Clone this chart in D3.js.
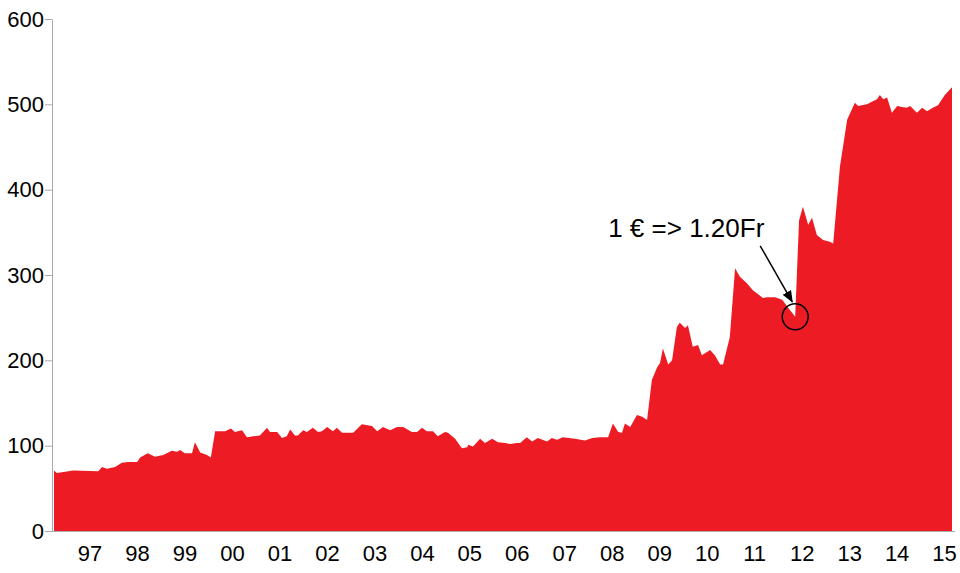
<!DOCTYPE html>
<html><head><meta charset="utf-8">
<script src="https://cdn.jsdelivr.net/npm/d3@7"></script>
<style>body{margin:0;background:#fff}svg{font-family:"Liberation Sans",Arial,sans-serif}</style>
</head><body><svg id="c" width="960" height="573"></svg>
<script>
const times=[1996.33,1996.39,1996.73,1997.25,1997.33,1997.43,1997.60,1997.74,1997.87,1998.06,1998.12,1998.28,1998.43,1998.60,1998.78,1998.89,1998.95,1999.05,1999.20,1999.26,1999.37,1999.51,1999.59,1999.68,1999.89,2000.01,2000.09,2000.24,2000.34,2000.47,2000.61,2000.76,2000.82,2000.97,2001.07,2001.17,2001.24,2001.34,2001.40,2001.51,2001.59,2001.71,2001.82,2001.90,2002.01,2002.13,2002.21,2002.32,2002.55,2002.73,2002.94,2003.05,2003.17,2003.32,2003.46,2003.59,2003.77,2003.88,2003.98,2004.08,2004.21,2004.31,2004.46,2004.52,2004.67,2004.81,2004.92,2004.94,2005.04,2005.19,2005.29,2005.44,2005.56,2005.71,2005.81,2005.96,2006.02,2006.16,2006.27,2006.39,2006.58,2006.68,2006.79,2006.91,2007.16,2007.37,2007.52,2007.68,2007.85,2007.95,2008.06,2008.14,2008.20,2008.31,2008.45,2008.56,2008.66,2008.76,2008.87,2008.93,2008.99,2009.10,2009.18,2009.28,2009.34,2009.45,2009.51,2009.61,2009.72,2009.80,2009.97,2010.07,2010.18,2010.24,2010.38,2010.49,2010.59,2010.74,2010.86,2011.07,2011.15,2011.32,2011.47,2011.63,2011.74,2011.82,2011.90,2012.01,2012.09,2012.19,2012.32,2012.46,2012.53,2012.67,2012.82,2012.98,2013.05,2013.23,2013.44,2013.50,2013.57,2013.65,2013.75,2013.86,2013.96,2014.06,2014.13,2014.27,2014.38,2014.48,2014.60,2014.71,2014.85,2015.00];
const values=[71,68,71,70,75,73,75,80,81,81,86,91,87,89,94,93,95,91,91,104,92,89,86,117,117,120,116,118,110,111,112,121,116,116,109,111,119,112,112,118,116,121,116,117,122,117,121,115,115,125,123,117,122,118,122,122,116,116,121,117,117,111,116,115,108,97,98,101,99,108,103,108,104,103,102,103,103,110,105,109,105,109,107,110,108,106,109,110,110,126,116,115,126,122,136,134,130,177,192,197,214,195,200,239,244,238,241,216,218,206,212,206,195,195,227,308,298,290,282,273,274,274,271,259,251,364,380,359,367,347,341,339,337,427,482,502,498,500,506,511,506,508,490,498,497,496,498,490,496,492,496,499,511,520];
const yTicks=[0,100,200,300,400,500,600];
const yearLabels=["97","98","99","00","01","02","03","04","05","06","07","08","09","10","11","12","13","14","15"];
const annotation="1 € => 1.20Fr";
const annoTime=2011.74, annoValue=251;

const svg=d3.select("#c");
const x=d3.scaleLinear().domain([1996.33,2015.0]).range([54,952]);
const y=d3.scaleLinear().domain([0,600]).range([531,19]);
const data=times.map((t,i)=>({t,v:values[i]}));
svg.append("path").datum(data).attr("fill","#ed1c24")
 .attr("d",d3.area().x(d=>x(d.t)).y0(y(0)).y1(d=>y(d.v)));

const ya=svg.append("g").attr("transform","translate(52,0)")
 .call(d3.axisLeft(y).tickValues(yTicks).tickSize(7).tickSizeOuter(0).tickPadding(1));
ya.select(".domain").attr("stroke","#aaa");
ya.selectAll(".tick line").attr("stroke","#aaa");
ya.selectAll("text").attr("font-size",22).attr("fill","#000").attr("font-family","Liberation Sans, Arial, sans-serif");
svg.append("line").attr("x1",45).attr("x2",955).attr("y1",531.5).attr("y2",531.5).attr("stroke","#aaa");

svg.append("g").selectAll("text").data(yearLabels).join("text")
 .attr("x",(d,i)=>x(1997.08+i*0.987)).attr("y",561).attr("text-anchor","middle")
 .attr("font-size",22).text(d=>d);

const cx=x(annoTime), cy=y(annoValue);
svg.append("text").attr("x",cx-187).attr("y",cy-80).attr("font-size",26).text(annotation);
svg.append("defs").append("marker").attr("id","ar").attr("viewBox","0 0 10 10").attr("refX",9).attr("refY",5)
 .attr("markerWidth",8).attr("markerHeight",8).attr("orient","auto")
 .append("path").attr("d","M0,1L10,5L0,9z").attr("fill","#000");
svg.append("line").attr("x1",cx-35).attr("y1",cy-71).attr("x2",cx-3).attr("y2",cy-15)
 .attr("stroke","#000").attr("stroke-width",1.5).attr("marker-end","url(#ar)");
svg.append("circle").attr("cx",cx).attr("cy",cy).attr("r",13).attr("fill","none").attr("stroke","#000").attr("stroke-width",1.5);
</script></body></html>
